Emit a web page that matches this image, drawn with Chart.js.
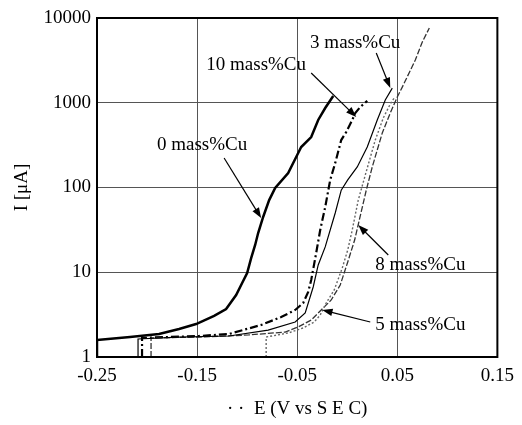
<!DOCTYPE html>
<html>
<head>
<meta charset="utf-8">
<style>
  body { margin: 0; background: #fff; }
  canvas { display: block; }
</style>
<script src="https://cdn.jsdelivr.net/npm/chart.js@4/dist/chart.umd.min.js"></script>
</head>
<body>
<canvas id="myChart" width="522" height="425"></canvas>
<script>
// potential E (V vs SCE) and current I (uA)
const e0 = [-0.25, -0.25, -0.217, -0.188, -0.168, -0.151, -0.133, -0.121, -0.111, -0.105, -0.1, -0.096, -0.092, -0.089, -0.084, -0.078, -0.072, -0.059, -0.049, -0.046, -0.036, -0.029, -0.022, -0.014];
const i0 = [1, 1.59, 1.72, 1.87, 2.14, 2.45, 3.05, 3.68, 5.39, 7.47, 9.8, 14.7, 21, 29, 44.9, 71, 98.6, 148, 255, 300, 394, 626, 867, 1200];

const e3 = [-0.209, -0.209, -0.168, -0.118, -0.079, -0.052, -0.042, -0.034, -0.029, -0.022, -0.012, -0.006, 0.0005, 0.01, 0.02, 0.03, 0.038, 0.045];
const i3 = [1, 1.63, 1.72, 1.77, 2.08, 2.59, 3.31, 6.7, 12.2, 19.9, 50, 93, 123, 175, 300, 626, 1080, 1490];

const e5 = [-0.081, -0.081, -0.059, -0.044, -0.033, -0.027, -0.021, -0.013, -0.005, 0.0005, 0.005, 0.011, 0.018, 0.028, 0.036, 0.043, 0.047];
const i5 = [1, 1.72, 1.92, 2.2, 2.59, 3.13, 4.34, 6.18, 11.2, 18.3, 31.5, 71, 140, 363, 661, 966, 1140];

const e8 = [-0.196, -0.196, -0.148, -0.0985, -0.062, -0.049, -0.036, -0.026, -0.016, -0.007, 0.0005, 0.0074, 0.012, 0.019, 0.025, 0.035, 0.043, 0.05, 0.055, 0.068, 0.075, 0.082];
const i8 = [1, 1.68, 1.72, 1.82, 1.97, 2.26, 2.73, 3.59, 4.71, 7.07, 13.2, 24, 41, 93, 175, 440, 757, 1170, 1530, 3190, 5210, 7620];

const e10 = [-0.205, -0.205, -0.148, -0.118, -0.086, -0.066, -0.052, -0.044, -0.039, -0.036, -0.031, -0.027, -0.022, -0.017, -0.012, -0.006, -0.001, 0.005, 0.008, 0.013, 0.02];
const i10 = [1, 1.68, 1.77, 1.87, 2.39, 2.96, 3.59, 4.34, 5.85, 8.1, 16.9, 31.5, 58.9, 123, 195, 363, 452, 626, 757, 891, 1050];

const xTicks = [-0.25, -0.15, -0.05, 0.05, 0.15];
const yTicks = [1, 10, 100, 1000, 10000];

const toPoints = (es, is) => es.map((e, k) => ({ x: e, y: is[k] }));

// labels with arrows, in data coordinates: text centre, arrow start, arrow tip
const notes = [
  { text: "3 mass%Cu", tx: 0.008, ty: 5070, ax: 0.029, ay: 3865, bx: 0.043, by: 1493 },
  { text: "10 mass%Cu", tx: -0.091, ty: 2790, ax: -0.036, ay: 2245, bx: 0.009, by: 679 },
  { text: "0 mass%Cu", tx: -0.145, ty: 317, ax: -0.123, ay: 223, bx: -0.086, by: 43.6 },
  { text: "8 mass%Cu", tx: 0.073, ty: 12.2, ax: 0.041, ay: 16, bx: 0.011, by: 36.1 },
  { text: "5 mass%Cu", tx: 0.073, ty: 2.39, ax: 0.023, ay: 2.59, bx: -0.025, by: 3.59 },
];

const FONT = "'Liberation Serif', 'Times New Roman', serif";

const drawArrow = (ctx, x1, y1, x2, y2) => {
  const ang = Math.atan2(y2 - y1, x2 - x1);
  const len = 11;
  ctx.beginPath();
  ctx.moveTo(x1, y1);
  ctx.lineTo(x2 - Math.cos(ang) * len * 0.8, y2 - Math.sin(ang) * len * 0.8);
  ctx.stroke();
  ctx.beginPath();
  ctx.moveTo(x2, y2);
  ctx.lineTo(x2 - len * Math.cos(ang - 0.35), y2 - len * Math.sin(ang - 0.35));
  ctx.lineTo(x2 - len * Math.cos(ang + 0.35), y2 - len * Math.sin(ang + 0.35));
  ctx.closePath();
  ctx.fill();
};

const notesPlugin = {
  id: "notes",
  afterDatasetsDraw(chart) {
    const { ctx, chartArea, scales } = chart;
    ctx.save();
    // frame round the plot
    ctx.strokeStyle = "#000";
    ctx.lineWidth = 2;
    ctx.strokeRect(chartArea.left, chartArea.top, chartArea.right - chartArea.left, chartArea.bottom - chartArea.top);

    ctx.fillStyle = "#000";
    ctx.lineWidth = 1.2;
    ctx.font = "19px " + FONT;
    ctx.textAlign = "center";
    ctx.textBaseline = "middle";
    for (const n of notes) {
      ctx.fillText(n.text, scales.x.getPixelForValue(n.tx), scales.y.getPixelForValue(n.ty));
      drawArrow(
        ctx,
        scales.x.getPixelForValue(n.ax),
        scales.y.getPixelForValue(n.ay),
        scales.x.getPixelForValue(n.bx),
        scales.y.getPixelForValue(n.by)
      );
    }
    ctx.restore();
  },
};

const ctx = document.getElementById("myChart");

const grafico = new Chart(ctx, {
  type: "line",
  data: {
    datasets: [
      { label: "0 mass%Cu", data: toPoints(e0, i0), borderColor: "#000", borderWidth: 2.5 },
      { label: "3 mass%Cu", data: toPoints(e3, i3), borderColor: "#000", borderWidth: 1.2 },
      { label: "5 mass%Cu", data: toPoints(e5, i5), borderColor: "#666", borderWidth: 1.4, borderDash: [2, 2] },
      { label: "8 mass%Cu", data: toPoints(e8, i8), borderColor: "#333", borderWidth: 1.3, borderDash: [6, 2] },
      { label: "10 mass%Cu", data: toPoints(e10, i10), borderColor: "#000", borderWidth: 2.2, borderDash: [8, 3, 2, 3] },
    ],
  },
  options: {
    responsive: false,
    animation: false,
    devicePixelRatio: 1,
    elements: { point: { radius: 0 }, line: { tension: 0, fill: false } },
    layout: { padding: { top: 18, right: 21, left: 0, bottom: 0 } },
    plugins: { legend: { display: false }, tooltip: { enabled: false } },
    scales: {
      x: {
        type: "linear",
        min: -0.25,
        max: 0.15,
        afterBuildTicks: (scale) => {
          scale.ticks = xTicks.map((v) => ({ value: v }));
        },
        afterFit: (scale) => {
          scale.height = 68;
        },
        ticks: {
          callback: (v) => v.toFixed(2),
          color: "#000",
          font: { family: FONT, size: 19 },
          padding: 8,
          maxRotation: 0,
        },
        grid: { color: "#555", lineWidth: 1, drawTicks: false },
        border: { display: true, color: "#000", width: 2 },
        title: {
          display: true,
          text: "· ·  E (V vs S E C)",
          color: "#000",
          font: { family: FONT, size: 19 },
          padding: { top: 0, bottom: 5 },
        },
      },
      y: {
        type: "logarithmic",
        min: 1,
        max: 10000,
        afterBuildTicks: (scale) => {
          scale.ticks = yTicks.map((v) => ({ value: v }));
        },
        afterFit: (scale) => {
          scale.width = 97;
        },
        ticks: {
          callback: (v) => String(v),
          color: "#000",
          font: { family: FONT, size: 19 },
          padding: 6,
        },
        grid: { color: "#555", lineWidth: 1, drawTicks: false },
        border: { display: true, color: "#000", width: 2 },
        title: {
          display: true,
          text: "I [μA]",
          color: "#000",
          font: { family: FONT, size: 19 },
          padding: { top: 11, bottom: 0 },
        },
      },
    },
  },
  plugins: [notesPlugin],
});
grafico.update();
</script>
</body>
</html>
